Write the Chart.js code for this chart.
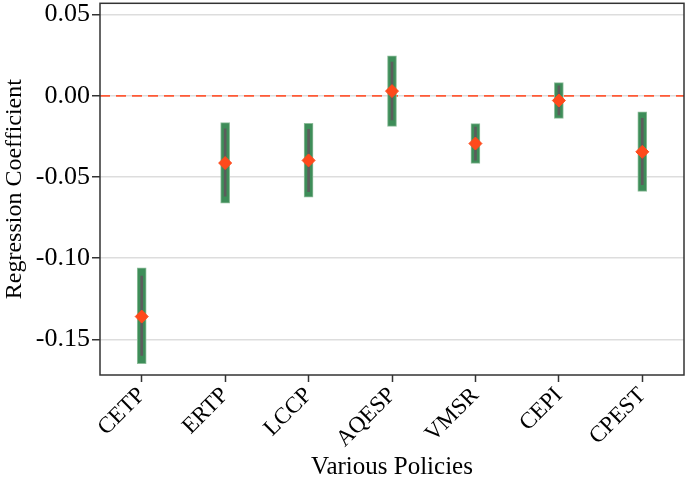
<!DOCTYPE html>
<html lang="en">
<head>
  <meta charset="UTF-8">
  <title>Regression Coefficients by Policy</title>
  <script src="https://cdn.jsdelivr.net/npm/chart.js"></script>
  <style>
    body {
      margin: 0;
      background-color: #ffffff;
    }

    .chart-box {
      width: 685px;
      height: 484px;
    }
  </style>
</head>
<body>
  <div class="chart-box">
    <canvas id="coefChart" width="685" height="484"></canvas>
  </div>

  <script>
    const policies = ['CETP', 'ERTP', 'LCCP', 'AQESP', 'VMSR', 'CEPI', 'CPEST'];
    const coefficients = [-0.136, -0.0414, -0.0398, 0.0029, -0.0294, -0.0029, -0.0345];
    // wide interval (thick green bar)
    const wideLow = [-0.165, -0.0661, -0.0624, -0.0188, -0.0416, -0.0139, -0.0589];
    const wideHigh = [-0.106, -0.0165, -0.0170, 0.0247, -0.0171, 0.0081, -0.0098];
    // narrow interval (thin grey line)
    const narrowLow = [-0.160, -0.0618, -0.0590, -0.0149, -0.0396, -0.0118, -0.0547];
    const narrowHigh = [-0.111, -0.0204, -0.0206, 0.0208, -0.0192, 0.0061, -0.0139];
    const yTicks = [-0.15, -0.10, -0.05, 0.00, 0.05];

    const serif = '"Liberation Serif", "DejaVu Serif", serif';

    const zeroLine = {
      id: 'zeroLine',
      beforeDatasetsDraw(chart) {
        const { ctx, chartArea, scales } = chart;
        const y = scales.y.getPixelForValue(0);
        ctx.save();
        ctx.strokeStyle = '#ff5a36';
        ctx.lineWidth = 1.8;
        ctx.setLineDash([10, 6]);
        ctx.beginPath();
        ctx.moveTo(chartArea.left, y);
        ctx.lineTo(chartArea.right, y);
        ctx.stroke();
        ctx.restore();
      }
    };

    const frame = {
      id: 'frame',
      afterDraw(chart) {
        const { ctx, chartArea } = chart;
        ctx.save();
        ctx.strokeStyle = '#333333';
        ctx.lineWidth = 1.5;
        ctx.strokeRect(chartArea.left, chartArea.top, chartArea.right - chartArea.left, chartArea.bottom - chartArea.top);
        ctx.restore();
      }
    };

    const ctx = document.getElementById('coefChart').getContext('2d');

    new Chart(ctx, {
      type: 'bar',
      data: {
        labels: policies,
        datasets: [
          {
            type: 'line',
            label: 'Coefficient',
            data: coefficients,
            showLine: false,
            pointStyle: 'rectRot',
            pointRadius: 6.5,
            pointBackgroundColor: '#ff4a1c',
            pointBorderColor: '#ff4a1c',
            pointBorderWidth: 1,
            order: 0
          },
          {
            label: 'Narrow',
            data: narrowLow.map((v, i) => [v, narrowHigh[i]]),
            backgroundColor: '#5c5c5c',
            barThickness: 2,
            grouped: false,
            order: 1
          },
          {
            label: 'Wide',
            data: wideLow.map((v, i) => [v, wideHigh[i]]),
            backgroundColor: '#3e8d59',
            borderColor: '#8dbd9a',
            borderWidth: 1,
            borderSkipped: false,
            barThickness: 9,
            grouped: false,
            order: 2
          }
        ]
      },
      options: {
        responsive: false,
        animation: false,
        layout: {
          autoPadding: false,
          padding: { top: -1, right: 1, left: 0, bottom: 0 }
        },
        plugins: {
          legend: { display: false },
          tooltip: { enabled: false }
        },
        scales: {
          x: {
            offset: true,
            grid: {
              offset: false,
              drawOnChartArea: false,
              tickLength: 7,
              tickColor: '#333333',
              tickWidth: 1.5
            },
            border: { display: false },
            ticks: {
              color: '#000000',
              minRotation: 45,
              maxRotation: 45,
              padding: 0,
              font: { family: serif, size: 23 }
            },
            title: {
              display: true,
              text: 'Various Policies',
              color: '#000000',
              padding: { top: 0, bottom: 2 },
              font: { family: serif, size: 25 }
            },
            afterFit(scale) {
              scale.height = 109;
            }
          },
          y: {
            min: -0.172,
            max: 0.057,
            afterBuildTicks(scale) {
              scale.ticks = yTicks.map(v => ({ value: v }));
            },
            grid: {
              color: '#dddddd',
              lineWidth: 1.5,
              tickLength: 8,
              tickColor: '#333333',
              tickWidth: 1.5
            },
            border: { display: false },
            ticks: {
              color: '#000000',
              padding: 2,
              font: { family: serif, size: 26, lineHeight: 0.1 },
              callback: v => v.toFixed(2)
            },
            title: {
              display: true,
              text: 'Regression Coefficient',
              color: '#000000',
              padding: { top: 0, bottom: 2 },
              font: { family: serif, size: 24 }
            },
            afterFit(scale) {
              scale.width = 100;
            }
          }
        }
      },
      plugins: [zeroLine, frame]
    });
  </script>
</body>
</html>
